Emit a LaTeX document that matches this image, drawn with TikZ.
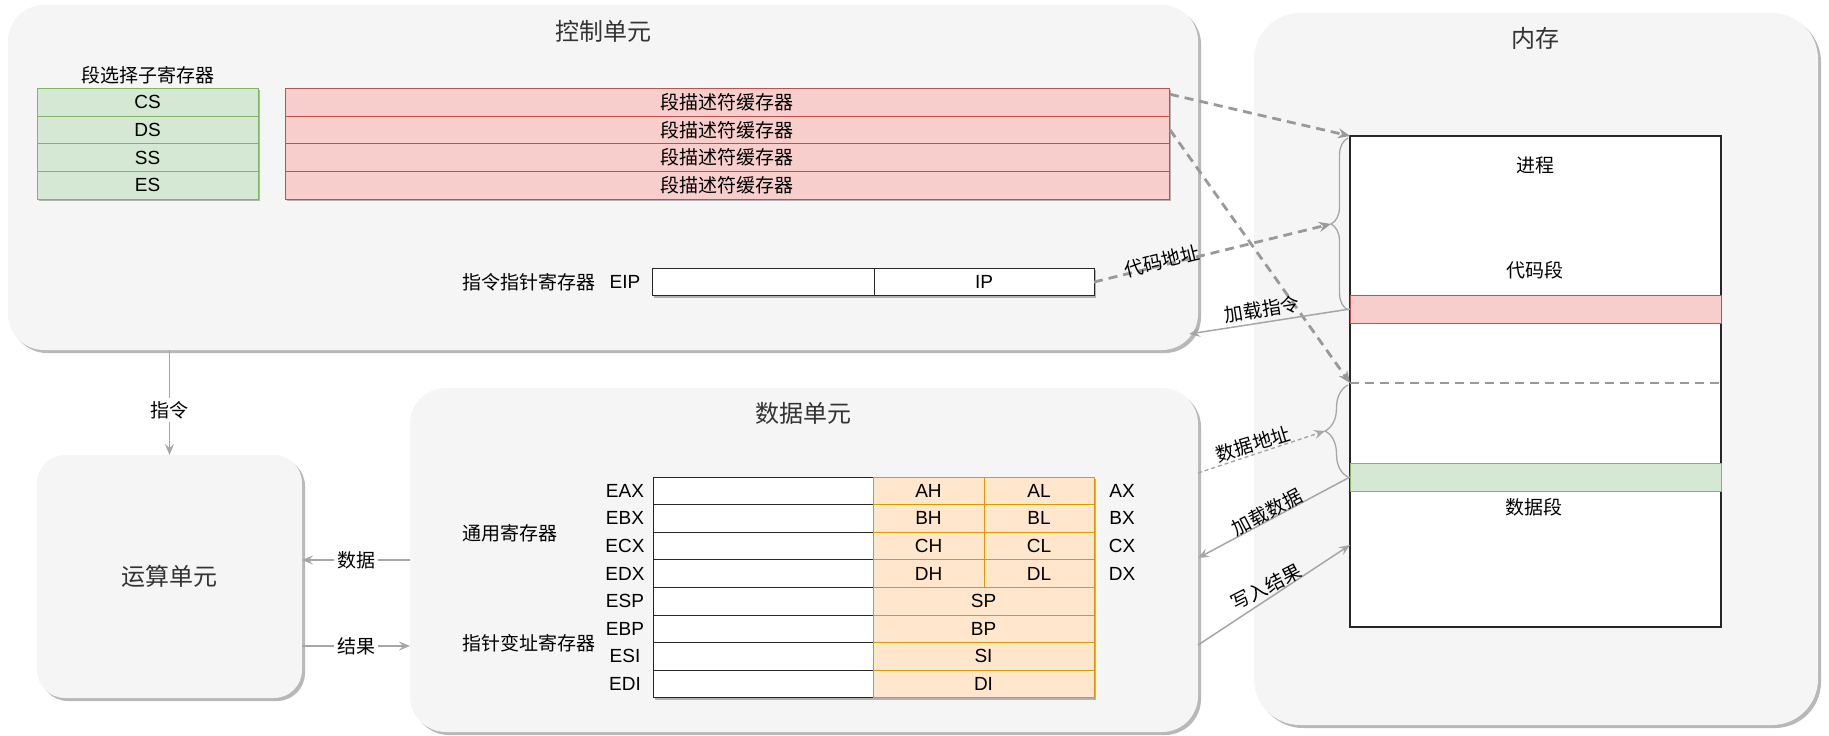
\documentclass[tikz,border=0pt]{standalone}
\usepackage{fontspec}
\setmainfont{Liberation Sans}
\newfontfamily\cjk{Noto Sans CJK SC}
\usetikzlibrary{shadows,arrows.meta,decorations.pathreplacing,fit,calc}
\definecolor{boxbg}{HTML}{F5F5F5}
\definecolor{gfill}{HTML}{D5E8D4}
\definecolor{gline}{HTML}{82B366}
\definecolor{rfill}{HTML}{F8CECC}
\definecolor{rline}{HTML}{B85450}
\definecolor{ofill}{HTML}{FFE6CC}
\definecolor{oline}{HTML}{D79B00}
\definecolor{arr}{HTML}{999999}
\definecolor{arrl}{HTML}{A6A6A6}
\definecolor{txt}{HTML}{333333}
\newcommand{\lbl}{\fontsize{19}{22}\selectfont}
\newcommand{\ttl}{\fontsize{24}{28}\selectfont\cjk}
\begin{document}
\begin{tikzpicture}[x=1pt,y=-1pt,
  every node/.style={inner sep=0pt,outer sep=0pt,font=\lbl,text=black},
  zh/.style={font=\lbl\cjk},
  title/.style={font=\ttl,text=txt},
  container/.style={fill=boxbg,draw=none,inner sep=0pt,
    drop shadow={shadow xshift=3pt,shadow yshift=-3pt,fill=black!28,opacity=1}},
  regshadow/.style={drop shadow={shadow xshift=2pt,shadow yshift=-2pt,fill=black!30,opacity=1}},
  greg/.style={draw=gline,fill=gfill,line width=1pt,minimum width=221pt,minimum height=27.7pt,regshadow},
  rreg/.style={draw=rline,fill=rfill,line width=1pt,minimum width=884pt,minimum height=27.7pt,regshadow,zh},
  wreg/.style={draw=black!85,fill=white,line width=1pt,minimum height=27.6pt,regshadow},
  oreg/.style={draw=oline,fill=ofill,line width=1pt,minimum height=27.6pt,regshadow},
  tip/.style={-{Stealth[length=12pt,width=10pt,inset=4pt]}},
  thickdash/.style={draw=arr,line width=2.8pt,dash pattern=on 9pt off 6pt,tip},
  thindash/.style={draw=arrl,line width=1.4pt,dash pattern=on 4pt off 3pt,-{Stealth[length=11pt,width=9pt,inset=4pt]}},
  solidarr/.style={draw=arrl,line width=1.5pt,-{Stealth[length=11pt,width=9pt,inset=4pt]}},
  bracestyle/.style={draw=arrl,line width=1.3pt,decorate},
  elabel/.style={zh,fill=white,inner sep=3pt},
]
\useasboundingbox (0,0) rectangle (1829,736);

% containers
\node[container,rounded corners=36pt,fit={(8,5) (1198,350)}] (cu) {};
\node[container,rounded corners=46pt,fit={(1254,13) (1818,725)}] (mem) {};
\node[container,rounded corners=36pt,fit={(410,388) (1198,732)}] (du) {};
\node[container,rounded corners=28pt,fit={(37,455) (302,698)}] (au) {};

% titles
\node[title] (cut) at (603,31) {控制单元};
\node[title] (memt) at (1535,38) {内存};
\node[title] (dut) at (803,413) {数据单元};
\node[title] (aut) at (169.5,576) {运算单元};

% segment selector registers
\node[zh] (selt) at (148,75) {段选择子寄存器};
\foreach \n/\t [count=\i from 0] in {cs/CS,ds/DS,ss/SS,es/ES}{
  \node[greg] (\n) at (147.5,{102.15+27.7*\i}) {\t};
}
\foreach \i in {1,...,4}{
  \node[rreg] (r\i) at (727,{102.15+27.7*(\i-1)}) {段描述符缓存器};
}

% instruction pointer
\node[zh,anchor=west] (ipt) at (462,282) {指令指针寄存器};
\node (eipn) at (625,282) {EIP};
\node[wreg,minimum width=222pt] (eip) at (763,282) {};
\node[wreg,minimum width=220pt] (ip) at (984,282) {IP};

% data registers
\foreach \e/\h/\l/\x [count=\i from 0] in {EAX/AH/AL/AX,EBX/BH/BL/BX,ECX/CH/CL/CX,EDX/DH/DL/DX}{
  \node[wreg,minimum width=220pt] (e\i) at (763,{490.8+27.6*\i}) {};
  \node[oreg,minimum width=111pt] (h\i) at (928.5,{490.8+27.6*\i}) {\h};
  \node[oreg,minimum width=110pt] (l\i) at (1039,{490.8+27.6*\i}) {\l};
  \node (en\i) at (625,{490.8+27.6*\i}) {\e};
  \node (xn\i) at (1122,{490.8+27.6*\i}) {\x};
}
\foreach \e/\p [count=\i from 4] in {ESP/SP,EBP/BP,ESI/SI,EDI/DI}{
  \node[wreg,minimum width=220pt] (e\i) at (763,{490.8+27.6*\i}) {};
  \node[oreg,minimum width=221pt] (p\i) at (983.5,{490.8+27.6*\i}) {\p};
  \node (en\i) at (625,{490.8+27.6*\i}) {\e};
}
\node[zh,anchor=west] (gpr) at (462,533) {通用寄存器};
\node[zh,anchor=west] (ptr) at (462,643) {指针变址寄存器};

% memory contents
\node[draw=black!85,fill=white,line width=1.5pt,inner sep=0pt,fit={(1350,136) (1721,627)}] (mw) {};
\node[draw=rline,fill=rfill,line width=1pt,inner sep=0pt,fit={(1350,295) (1721,323)}] (cb) {};
\node[draw=gline,fill=gfill,line width=1pt,inner sep=0pt,fit={(1350,463) (1721,491)}] (db) {};
\coordinate (dl1) at (1350,383);
\coordinate (dl2) at (1721,383);
\draw[draw=arr,line width=2.8pt,dash pattern=on 9pt off 6pt] (dl1) -- (dl2);
\node[zh] (proc) at (1535,165) {进程};
\node[zh] (code) at (1535,270) {代码段};
\node[zh] (data) at (1534,507) {数据段};

% braces
\coordinate (b1tip) at (1331,224);
\coordinate (b2tip) at (1325,431);
\draw[bracestyle,decoration={brace,amplitude=17pt}] (1348,310) -- (1348,138);
\draw[bracestyle,decoration={brace,amplitude=23pt}] (1348,477) -- (1348,385);

% arrows
\draw[thickdash] ($(r1.north east)+(1,6)$) -- (mw.north west);
\draw[thickdash] ($(r2.east)+(1,0)$) -- (dl1);
\draw[thickdash] (ip.east) -- (b1tip);
\node[zh,rotate=14] (lca) at (1162,261) {代码地址};
\coordinate (cuend) at (1189,334);
\draw[solidarr] (cb.west) -- (cuend);
\node[zh,rotate=9] (lli) at (1262,309) {加载指令};

\draw[thindash] (du.east |- 0,473) -- (b2tip);
\node[zh,rotate=17] (lda) at (1253,444) {数据地址};
\draw[solidarr] (db.west) -- (du.east |- 0,558);
\node[zh,rotate=28] (lld) at (1267,512) {加载数据};
\draw[solidarr] (du.east |- 0,645) -- (mw.west |- 0,545);
\node[zh,rotate=27] (lwr) at (1266,587) {写入结果};

\draw[solidarr] (cu.south -| au.north) -- node[elabel,pos=0.57] {指令} (au.north);
\draw[solidarr] (du.west |- 0,560) -- node[elabel] {数据} (au.east |- 0,560);
\draw[solidarr] (au.east |- 0,646) -- node[elabel] {结果} (du.west |- 0,646);
\end{tikzpicture}
\end{document}
